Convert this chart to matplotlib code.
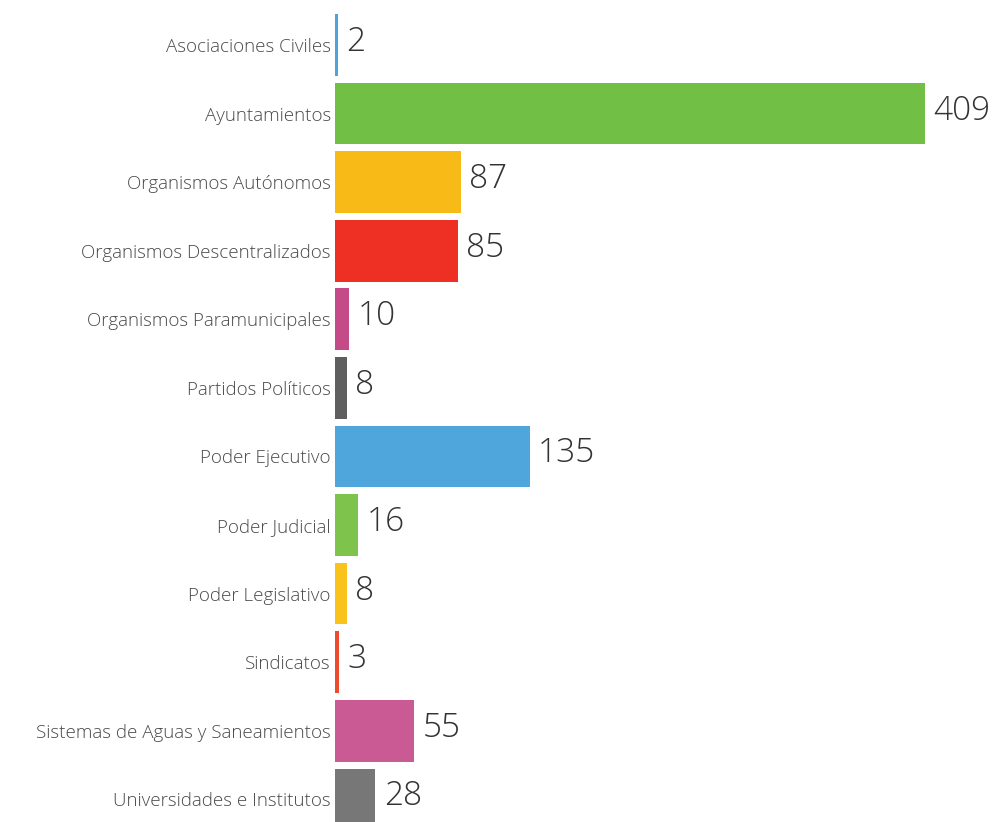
import matplotlib
matplotlib.use('Agg')
import matplotlib.pyplot as plt

categories = [
    "Asociaciones Civiles",
    "Ayuntamientos",
    "Organismos Autónomos",
    "Organismos Descentralizados",
    "Organismos Paramunicipales",
    "Partidos Políticos",
    "Poder Ejecutivo",
    "Poder Judicial",
    "Poder Legislativo",
    "Sindicatos",
    "Sistemas de Aguas y Saneamientos",
    "Universidades e Institutos",
]
values = [2, 409, 87, 85, 10, 8, 135, 16, 8, 3, 55, 28]
colors = ["#4FA3DB", "#72BF45", "#F7BA17", "#EE2F24", "#C54A88", "#5F5F5F",
          "#4FA6DC", "#7DC34C", "#F9C31B", "#EE4A2E", "#C95A94", "#777777"]

plt.rcParams['font.family'] = ['Open Sans', 'DejaVu Sans']

fig = plt.figure(figsize=(9.99, 8.22), dpi=100)
fig.patch.set_facecolor('white')
ax = fig.add_axes([335 / 999, 0, 1 - 335 / 999, 1])

ypos = list(range(len(categories)))
bars = ax.barh(ypos, values, height=0.9, color=colors)

for y, v in zip(ypos, values):
    ax.annotate(str(v), xy=(v, y), xytext=(6, 2), textcoords='offset points',
                ha='left', va='center', fontsize=24, fontweight='light',
                color='#333333')

ax.set_yticks(ypos)
ax.set_yticklabels(categories, fontsize=13.5, color='#4a4a4a', fontweight='light')
ax.tick_params(axis='y', length=0, pad=3)
ax.set_xticks([])
for s in ax.spines.values():
    s.set_visible(False)

ax.set_xlim(0, 460)
ax.set_ylim(11.33, -0.656)

fig.savefig('out.png', dpi=100, facecolor='white')
